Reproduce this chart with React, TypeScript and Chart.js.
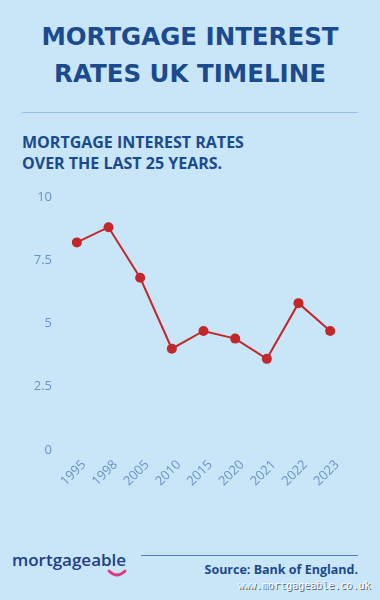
import React, { useEffect, useRef } from "react";
import { Chart, registerables } from "chart.js";

Chart.register(...registerables);

const years = ["1995", "1998", "2005", "2010", "2015", "2020", "2021", "2022", "2023"];
const rates = [8.2, 8.8, 6.8, 4.0, 4.7, 4.4, 3.6, 5.8, 4.7];
const yTicks = [0, 2.5, 5, 7.5, 10];

const BG = "#c9e6f8";
const NAVY = "#1b4a8e";
const TICK = "#6a92c9";
const RED = "#c4272a";

export default function App() {
  const ref = useRef<HTMLCanvasElement | null>(null);

  useEffect(() => {
    document.body.style.margin = "0";
    const canvas = ref.current!;
    const chart = new Chart(canvas, {
      type: "line",
      data: {
        labels: years,
        datasets: [
          {
            data: rates,
            borderColor: RED,
            backgroundColor: RED,
            borderWidth: 2,
            pointRadius: 5,
            pointHoverRadius: 5,
            pointBorderWidth: 0,
            pointBackgroundColor: RED,
            tension: 0,
          },
        ],
      },
      options: {
        animation: false,
        responsive: false,
        devicePixelRatio: 1,
        layout: { padding: { top: 16, right: 34, bottom: 10, left: 0 } },
        plugins: { legend: { display: false }, tooltip: { enabled: false }, title: { display: false } },
        scales: {
          x: {
            offset: true,
            grid: { display: false, drawTicks: false },
            border: { display: false },
            ticks: {
              color: TICK,
              font: { family: "Open Sans", size: 13 },
              minRotation: 45,
              maxRotation: 45,
              padding: 7,
              labelOffset: 7,
            },
            afterFit: (s: any) => {
              s.height = 50;
            },
          },
          y: {
            min: 0,
            max: 10,
            grid: { display: false, drawTicks: false },
            border: { display: false },
            ticks: {
              color: TICK,
              font: { family: "Open Sans", size: 13 },
              padding: 9,
              callback: (v: any) => String(v),
            },
            afterBuildTicks: (s: any) => {
              s.ticks = yTicks.map((v) => ({ value: v }));
            },
            afterFit: (s: any) => {
              s.width = 61;
            },
          },
        },
      },
    });
    return () => chart.destroy();
  }, []);

  const abs = (o: React.CSSProperties): React.CSSProperties => ({ position: "absolute", margin: 0, ...o });

  return (
    <div style={{ position: "fixed", left: 0, top: 0, width: 380, height: 600, background: BG, overflow: "hidden" }}>
      <div
        style={abs({
          top: 19,
          left: 0,
          width: 380,
          textAlign: "center",
          fontFamily: "DejaVu Sans",
          fontWeight: 700,
          fontSize: 24.5,
          lineHeight: "36.5px",
          color: NAVY,
        })}
      >
        <div>MORTGAGE INTEREST</div>
        <div>RATES UK TIMELINE</div>
      </div>
      <div style={abs({ top: 112, left: 22, width: 336, height: 1, background: "#97bfe6" })} />
      <div
        style={abs({
          top: 132,
          left: 22,
          fontFamily: "Open Sans",
          fontWeight: 700,
          fontSize: 16,
          lineHeight: "21px",
          color: NAVY,
          whiteSpace: "nowrap",
        })}
      >
        <div>MORTGAGE INTEREST RATES</div>
        <div>OVER THE LAST 25 YEARS.</div>
      </div>
      <canvas ref={ref} width={380} height={330} style={abs({ top: 180, left: 0, width: 380, height: 330 })} />
      <div
        style={abs({
          top: 550,
          left: 12,
          fontFamily: "Open Sans",
          fontWeight: 600,
          fontSize: 17,
          lineHeight: "20px",
          color: "#1d3f8a",
          whiteSpace: "nowrap",
        })}
      >
        mortgageable
      </div>
      <svg style={abs({ top: 568, left: 106, width: 22, height: 12 })} width={22} height={12}>
        <path d="M3 3 Q11 11 19 3" stroke="#e0357d" strokeWidth={2.6} fill="none" strokeLinecap="round" />
      </svg>
      <div style={abs({ top: 555, left: 141, width: 217, height: 1, background: "#4f7fc0" })} />
      <div
        style={abs({
          top: 561.5,
          right: 22,
          fontFamily: "Open Sans",
          fontWeight: 700,
          fontSize: 12.5,
          lineHeight: "15px",
          color: NAVY,
          whiteSpace: "nowrap",
        })}
      >
        Source: Bank of England.
      </div>
      <div
        style={abs({
          top: 579.5,
          left: 238,
          fontFamily: "DejaVu Sans Mono",
          fontSize: 10,
          lineHeight: "12px",
          color: "#ffffff",
          whiteSpace: "nowrap",
          textShadow: "1px 1px 0 #5a5a5a",
        })}
      >
        www.mortgageable.co.uk
      </div>
    </div>
  );
}
